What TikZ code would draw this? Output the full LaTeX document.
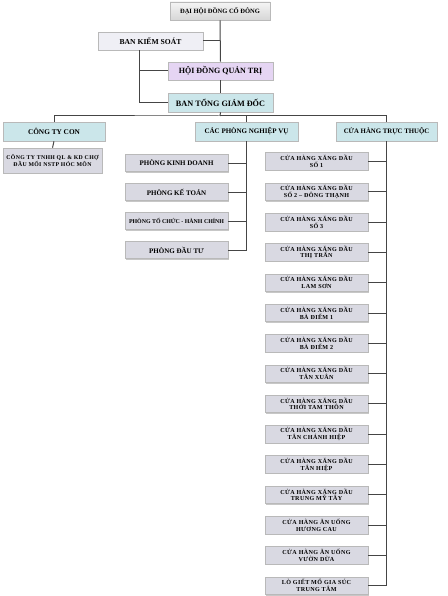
\documentclass[tikz,border=0pt]{standalone}
\usepackage{fontspec}
\setmainfont{Liberation Serif}
\newfontfamily\widefont[LetterSpace=6]{Liberation Serif}
\usetikzlibrary{shadows}
\definecolor{boxgray}{HTML}{D9D9E2}
\definecolor{boxcyan}{HTML}{CBE6EA}
\definecolor{boxlav}{HTML}{E5D5F3}
\definecolor{boxlight}{HTML}{EFEFF5}
\definecolor{linegray}{HTML}{454545}
\tikzset{
  base/.style={draw=gray!55, line width=0.6pt, inner sep=1pt, align=center,
    font=\bfseries, drop shadow={shadow xshift=1.2pt, shadow yshift=-1.2pt, fill=gray!55, opacity=0.8}},
  graybox/.style={base, fill=boxgray},
  cyanbox/.style={base, fill=boxcyan},
  lavbox/.style={base, fill=boxlav},
  lightbox/.style={base, fill=boxlight},
  topbox/.style={base, top color=gray!8, bottom color=gray!32},
  conn/.style={draw=linegray, line width=1pt},
  big/.style={font=\fontsize{7.6}{9}\selectfont\bfseries},
  mid/.style={font=\fontsize{7}{8.5}\selectfont\bfseries},
  small/.style={font=\fontsize{6.1}{6.8}\selectfont\widefont\bfseries},
}
\begin{document}
\begin{tikzpicture}[x=1pt,y=-1pt]
\useasboundingbox (0,0) rectangle (447,596);
% top levels
\node[topbox, font=\fontsize{6.5}{8}\selectfont\bfseries, minimum width=100pt, minimum height=18pt] (dh) at (220,11) {ĐẠI HỘI ĐỒNG CỔ ĐÔNG};
\node[lightbox, big, minimum width=105pt, minimum height=18pt] (bks) at (150.5,41) {BAN KIỂM SOÁT};
\node[lavbox, font=\fontsize{8}{9}\selectfont\bfseries, minimum width=105pt, minimum height=18pt] (hd) at (220.5,71) {HỘI ĐỒNG QUẢN TRỊ};
\node[cyanbox, font=\fontsize{8.2}{9}\selectfont\bfseries, minimum width=105pt, minimum height=19pt] (tgd) at (220.5,102.5) {BAN TỔNG GIÁM ĐỐC};
% level 2
\node[cyanbox, font=\fontsize{7.3}{9}\selectfont\bfseries, minimum width=102pt, minimum height=19pt] (ctc) at (54,131.5) {CÔNG TY CON};
\node[cyanbox, mid, minimum width=103pt, minimum height=19pt] (cpnv) at (246.5,131.5) {CÁC PHÒNG NGHIỆP VỤ};
\node[cyanbox, font=\fontsize{6.8}{8}\selectfont\bfseries, minimum width=101pt, minimum height=19pt] (chtt) at (386.5,131.5) {CỬA HÀNG TRỰC THUỘC};
% subsidiary
\node[graybox, font=\fontsize{5.8}{7}\selectfont\widefont\bfseries, minimum width=99pt, minimum height=25pt] (tnhh) at (52.5,160.5) {CÔNG TY TNHH QL \& KD CHỢ\\ĐẦU MỐI NSTP HÓC MÔN};
% departments
\tikzset{pbox/.style={graybox, mid, minimum width=103pt, minimum height=17pt}}
\node[pbox] (p1) at (176.5,163) {PHÒNG KINH DOANH};
\node[pbox] (p2) at (176.5,192) {PHÒNG KẾ TOÁN};
\node[pbox, font=\fontsize{5.9}{7}\selectfont\bfseries] (p3) at (176.5,221) {PHÒNG TỔ CHỨC - HÀNH CHÍNH};
\node[pbox] (p4) at (176.5,250) {PHÒNG ĐẦU TƯ};
% stores
\tikzset{sbox/.style={graybox, small, minimum width=103pt, minimum height=17.5pt}}
\foreach \i/\t in {0/{CỬA HÀNG XĂNG DẦU\\SỐ 1},
  1/{CỬA HÀNG XĂNG DẦU\\SỐ 2 – ĐÔNG THẠNH},
  2/{CỬA HÀNG XĂNG DẦU\\SỐ 3},
  3/{CỬA HÀNG XĂNG DẦU\\THỊ TRẤN},
  4/{CỬA HÀNG XĂNG DẦU\\LAM SƠN},
  5/{CỬA HÀNG XĂNG DẦU\\BÀ ĐIỂM 1},
  6/{CỬA HÀNG XĂNG DẦU\\BÀ ĐIỂM 2},
  7/{CỬA HÀNG XĂNG DẦU\\TÂN XUÂN},
  8/{CỬA HÀNG XĂNG DẦU\\THỚI TAM THÔN},
  9/{CỬA HÀNG XĂNG DẦU\\TÂN CHÁNH HIỆP},
  10/{CỬA HÀNG XĂNG DẦU\\TÂN HIỆP},
  11/{CỬA HÀNG XĂNG DẦU\\TRUNG MỸ TÂY},
  12/{CỬA HÀNG ĂN UỐNG\\HƯƠNG CAU},
  13/{CỬA HÀNG ĂN UỐNG\\VƯỜN DỪA},
  14/{LÒ GIẾT MỔ GIA SÚC\\TRUNG TÂM}}{
  \node[sbox] (s\i) at (316.5,{161.5+\i*30.3}) {\t};
}
% connectors
\coordinate (j1) at (220,41);
\coordinate (bus) at (220,116);
\coordinate (vx) at (139,0);
\draw[conn] (dh.south) -- (hd.north);
\draw[conn] (hd.south) -- (tgd.north);
\draw[conn] (bks.east) -- (j1);
\draw[conn] (vx |- bks.south) |- (tgd.west);
\draw[conn] (vx |- hd.west) -- (hd.west);
\draw[conn] (tgd.south) -- (bus);
\draw[conn] (ctc.north) |- (bus) -| (cpnv.north);
\draw[conn] (bus) -| (chtt.north);
\draw[conn] (ctc.south) -- (tnhh.north);
\draw[conn] (cpnv.south) |- (p4.east);
\foreach \k in {1,2,3} { \draw[conn] (p\k.east) -- (p\k.east -| cpnv.south); }
\draw[conn] (chtt.south) |- (s14.east);
\foreach \k in {0,...,13} { \draw[conn] (s\k.east) -- (s\k.east -| chtt.south); }
\end{tikzpicture}
\end{document}
